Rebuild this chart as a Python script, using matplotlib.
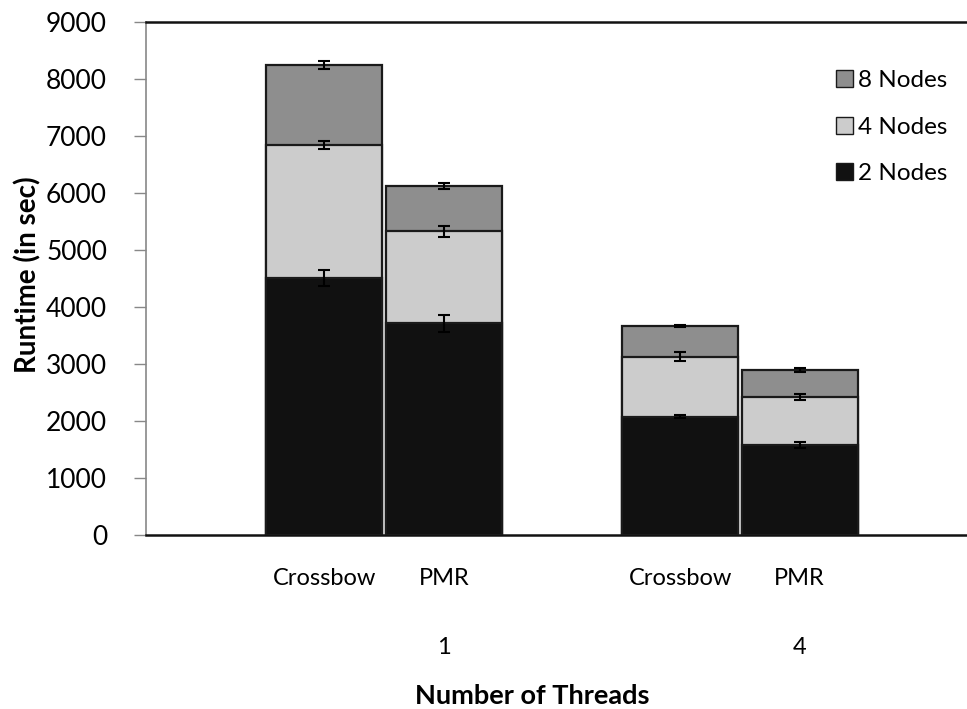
import matplotlib
matplotlib.use("Agg")
import matplotlib.pyplot as plt
from matplotlib.patches import Patch
import numpy as np

plt.rcParams['font.family'] = ['Lato', 'DejaVu Sans']

# Data
systems = ["Crossbow", "PMR", "Crossbow", "PMR"]
threads = ["1", "4"]
series_names = ["2 Nodes", "4 Nodes", "8 Nodes"]
nodes2 = [4515, 3715, 2075, 1580]
nodes4 = [6845, 5330, 3130, 2425]
nodes8 = [8245, 6125, 3665, 2890]
err2 = [140, 145, 25, 60]
err4 = [75, 95, 73, 55]
err8 = [70, 55, 20, 35]
colors = {"2 Nodes": "#111111", "4 Nodes": "#cccccc", "8 Nodes": "#8e8e8e"}

fig = plt.figure(figsize=(9.67, 7.09), dpi=100)
ax = fig.add_axes([146/967, 1-535/709, 1-146/967, (535-22)/709])

group = np.array([0, 0, 1, 1])
offs = np.array([-0.168, 0.168, -0.168, 0.168])
xpos = group + offs
width = 0.326

for vals, errs, name, z in [(nodes8, err8, "8 Nodes", 2), (nodes4, err4, "4 Nodes", 3), (nodes2, err2, "2 Nodes", 4)]:
    ax.bar(xpos, vals, width=width, color=colors[name], edgecolor="#1a1a1a",
           linewidth=1.6, zorder=z)
    ax.errorbar(xpos, vals, yerr=errs, fmt="none", ecolor="black", elinewidth=1.5,
                capsize=4, capthick=1.5, zorder=10)

ax.set_xlim(-0.669, 1.638)
ax.set_ylim(0, 9000)
ax.set_yticks(np.arange(0, 9001, 1000))
ax.tick_params(axis='y', labelsize=19, length=9, color="#888888", width=1, pad=19)
ax.set_xticks([])
ax.spines["right"].set_visible(False)
ax.spines["left"].set_color("#888888")
ax.spines["left"].set_linewidth(1.2)
ax.spines["top"].set_color("#111111")
ax.spines["top"].set_linewidth(1.8)
ax.spines["bottom"].set_color("#111111")
ax.spines["bottom"].set_linewidth(1.8)

# Category labels
for x, s in zip(xpos, systems):
    ax.text(x, -770, s, ha="center", va="center", fontsize=17)
for g, t in zip([0, 1], threads):
    ax.text(g + 0.168, -1980, t, ha="center", va="center", fontsize=17)

fig.text(532/967, 1-696/709, "Number of Threads", ha="center", va="center",
         fontsize=19.5, fontweight="bold")
fig.text(28/967, 1-275/709, "Runtime (in sec)", ha="center", va="center",
         fontsize=20, fontweight="bold", rotation=90)

handles = [Patch(facecolor=colors[n], edgecolor="#1a1a1a", linewidth=1) for n in ["8 Nodes", "4 Nodes", "2 Nodes"]]
leg = fig.legend(handles, ["8 Nodes", "4 Nodes", "2 Nodes"], loc="upper left",
                 bbox_to_anchor=(836/967, 1-70/709),
                 frameon=False, fontsize=17.5, handlelength=0.7, handleheight=0.7,
                 handletextpad=0.2, labelspacing=1.05, borderaxespad=0, borderpad=0)

fig.savefig("out.png", dpi=100)
